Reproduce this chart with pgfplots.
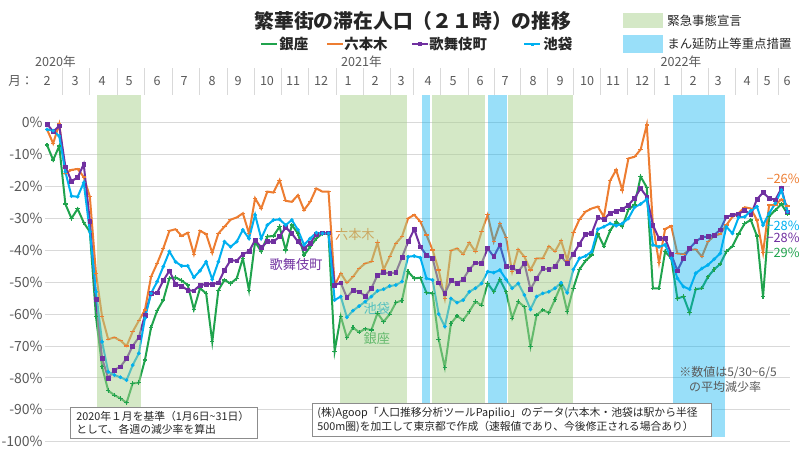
\documentclass[border=0pt]{standalone}
\usepackage{pgfplots}
\pgfplotsset{compat=1.18}
\usepackage{pgfplotstable}
\usepackage{fontspec}
\setmainfont{Noto Sans CJK JP}
\definecolor{cG}{RGB}{32,163,77}
\definecolor{cO}{RGB}{237,125,49}
\definecolor{cP}{RGB}{112,48,160}
\definecolor{cC}{RGB}{0,176,240}
\definecolor{bandG}{RGB}{169,209,142}
\definecolor{bandB}{RGB}{0,176,240}
\definecolor{txt}{RGB}{89,89,89}
\definecolor{dark}{RGB}{38,38,38}
\definecolor{gridc}{RGB}{217,217,217}

\pgfplotstableread{
w g o p c
0 -7.0 -2.1 -0.4 -2.1
1 -11.7 -6.5 -2.8 -2.5
2 -7.3 -0.4 -1.0 -4.2
3 -25.5 -15.9 -13.8 -15.4
4 -30.0 -14.8 -18.3 -23.0
5 -27.0 -14.5 -17.2 -23.2
6 -31.3 -17.0 -13.0 -18.8
7 -34.2 -23.2 -31.0 -34.2
8 -60.8 -47.2 -55.4 -53.0
9 -76.5 -60.8 -73.9 -68.7
10 -84.0 -67.9 -80.1 -78.1
11 -85.4 -67.3 -77.5 -79.1
12 -86.4 -68.3 -76.5 -79.8
13 -87.8 -70.0 -73.9 -80.7
14 -81.7 -65.5 -70.0 -76.0
15 -81.5 -62.1 -67.3 -72.3
16 -74.4 -58.7 -60.3 -61.3
17 -64.2 -48.3 -53.5 -53.5
18 -58.9 -44.1 -53.3 -49.8
19 -55.6 -39.4 -49.5 -45.1
20 -48.8 -33.9 -46.4 -40.4
21 -48.5 -33.4 -50.6 -43.6
22 -49.5 -35.5 -51.2 -44.9
23 -50.9 -34.5 -52.5 -44.9
24 -58.5 -41.2 -52.7 -48.5
25 -51.9 -33.9 -50.9 -46.4
26 -53.5 -34.9 -50.6 -43.6
27 -68.7 -40.8 -50.6 -49.1
28 -52.5 -34.7 -50.2 -43.6
29 -49.3 -32.6 -46.2 -37.3
30 -50.4 -30.4 -43.1 -38.9
31 -48.8 -29.7 -43.3 -37.3
32 -42.5 -28.4 -41.2 -33.6
33 -52.5 -34.7 -40.4 -36.3
34 -37.3 -23.7 -36.8 -28.9
35 -40.4 -26.9 -39.1 -36.3
36 -35.7 -21.6 -37.3 -32.1
37 -35.5 -21.9 -37.3 -30.5
38 -32.6 -18.0 -35.7 -30.3
39 -39.9 -24.5 -32.8 -32.1
40 -32.1 -24.8 -34.7 -30.5
41 -34.7 -22.7 -37.3 -33.6
42 -41.5 -27.4 -39.4 -38.3
43 -38.9 -24.8 -37.8 -36.3
44 -36.3 -20.6 -34.9 -34.5
45 -34.7 -21.6 -34.5 -34.7
46 -34.9 -21.6 -34.5 -34.7
47 -71.6 -50.9 -50.9 -55.6
48 -60.7 -47.2 -50.2 -54.5
49 -67.4 -50.2 -54.8 -61.0
50 -64.2 -48.3 -52.5 -58.9
51 -65.7 -45.7 -53.0 -57.5
52 -64.6 -44.1 -54.3 -56.1
53 -65.0 -43.6 -51.9 -54.5
54 -59.7 -37.6 -47.8 -52.7
55 -62.4 -46.0 -47.0 -52.2
56 -60.0 -42.0 -47.2 -51.2
57 -56.4 -37.8 -47.0 -50.9
58 -55.7 -35.7 -42.2 -49.8
59 -46.7 -30.0 -37.3 -42.0
60 -48.8 -28.9 -33.4 -41.8
61 -48.6 -31.0 -38.9 -42.3
62 -53.3 -35.2 -41.5 -48.8
63 -53.5 -39.9 -42.5 -49.3
64 -67.9 -46.2 -50.2 -60.0
65 -76.7 -55.1 -53.5 -63.9
66 -62.9 -40.1 -49.5 -55.1
67 -60.6 -39.4 -50.4 -56.4
68 -61.9 -41.2 -49.1 -55.6
69 -59.2 -37.6 -46.0 -53.0
70 -56.1 -40.4 -43.9 -51.9
71 -57.2 -34.2 -44.1 -50.4
72 -50.4 -28.9 -39.4 -46.7
73 -53.0 -37.3 -42.0 -47.0
74 -49.1 -31.6 -38.3 -46.2
75 -53.0 -35.9 -45.1 -49.1
76 -61.3 -46.7 -45.4 -51.9
77 -56.1 -39.7 -46.7 -50.4
78 -57.7 -42.0 -44.1 -54.0
79 -70.2 -46.2 -52.2 -58.5
80 -60.3 -42.5 -48.8 -54.5
81 -58.7 -42.5 -45.7 -53.5
82 -59.6 -38.7 -46.0 -53.0
83 -55.4 -40.4 -45.1 -51.9
84 -50.9 -37.0 -42.0 -50.2
85 -59.2 -43.1 -44.1 -53.3
86 -51.9 -34.5 -41.2 -46.0
87 -46.0 -30.3 -38.0 -42.5
88 -43.3 -27.9 -34.9 -41.8
89 -41.5 -26.9 -34.7 -40.4
90 -34.9 -26.3 -29.7 -33.4
91 -38.7 -29.5 -30.3 -32.6
92 -33.9 -18.2 -28.3 -31.6
93 -31.0 -14.8 -27.7 -32.3
94 -32.6 -21.1 -27.2 -31.6
95 -27.2 -11.2 -25.8 -30.0
96 -25.8 -10.7 -23.7 -26.5
97 -16.9 -8.4 -20.6 -25.5
98 -20.3 -0.7 -23.2 -24.0
99 -51.9 -32.0 -32.1 -38.3
100 -51.9 -43.9 -36.3 -38.9
101 -40.4 -33.3 -36.3 -38.3
102 -42.5 -32.4 -41.2 -42.5
103 -55.1 -41.0 -46.4 -48.8
104 -54.5 -41.2 -42.5 -51.4
105 -59.6 -39.9 -39.4 -52.2
106 -52.2 -39.7 -37.3 -47.2
107 -51.9 -42.0 -35.9 -45.7
108 -48.3 -37.3 -35.7 -44.6
109 -46.0 -35.5 -35.2 -42.8
110 -44.3 -34.9 -33.6 -41.0
111 -40.4 -32.1 -29.5 -32.6
112 -38.7 -29.5 -28.9 -34.7
113 -34.9 -28.4 -28.6 -29.7
114 -31.6 -26.5 -27.4 -29.5
115 -30.5 -26.9 -28.9 -27.6
116 -35.5 -30.5 -24.0 -26.3
117 -54.5 -40.8 -21.9 -32.1
118 -29.3 -25.8 -23.7 -28.4
119 -27.4 -25.8 -24.2 -25.3
120 -25.5 -24.0 -20.6 -21.1
121 -28.6 -26.1 -27.9 -27.9
}\data

\begin{document}
\begin{tikzpicture}
\path[use as bounding box] (0,0) rectangle (400pt,-225pt);
\begin{axis}[
  at={(22.5pt,-61.35pt)}, anchor=north west,
  x=3.06pt, y=1.595pt,
  xmin=-0.33, xmax=121.4, ymin=-100, ymax=0,
  enlargelimits=false, clip=false,
  axis line style={draw=none},
  xtick=\empty,
  ytick={-100,-90,...,0},
  yticklabels={-100\%,-90\%,-80\%,-70\%,-60\%,-50\%,-40\%,-30\%,-20\%,-10\%,0\%},
  major tick length=0pt,
  ymajorgrids, grid style={gridc, line width=0.5pt},
  yticklabel style={font=\fontsize{7}{8}\selectfont, text=txt, inner sep=0pt, xshift=-1pt},
  every axis plot/.append style={line width=1pt},
]
\addplot[cG, mark=+, mark size=1.1pt, mark options={line width=0.6pt}] table[x=w,y=g] {\data};
\addplot[cO, mark=-, mark size=1.1pt, mark options={line width=0.6pt}] table[x=w,y=o] {\data};
\addplot[cP, mark=square*, mark size=0.95pt, mark options={line width=0.3pt}] table[x=w,y=p] {\data};
\addplot[cC, mark=*, mark size=0.8pt, mark options={line width=0.3pt}] table[x=w,y=c] {\data};

\node[text=cO, font=\fontsize{6.6}{7}\selectfont] at (axis cs:50.3,-35.2) {六本木};
\node[text=cP, font=\fontsize{6.6}{7}\selectfont] at (axis cs:40.7,-44.6) {歌舞伎町};
\node[text=cC, font=\fontsize{6.6}{7}\selectfont] at (axis cs:53.9,-58.1) {池袋};
\node[text=cG, font=\fontsize{6.6}{7}\selectfont] at (axis cs:53.9,-67.8) {銀座};

\fill[bandG, fill opacity=0.5] (axis cs:8.17,8.7) rectangle (axis cs:15.36,-98.5);
\fill[bandG, fill opacity=0.5] (axis cs:47.9,8.7) rectangle (axis cs:58.8,-98.5);
\fill[bandB, fill opacity=0.4] (axis cs:61.3,8.7) rectangle (axis cs:62.6,-98.5);
\fill[bandG, fill opacity=0.5] (axis cs:62.9,8.7) rectangle (axis cs:71.6,-98.5);
\fill[bandB, fill opacity=0.4] (axis cs:72.1,8.7) rectangle (axis cs:75.2,-98.5);
\fill[bandG, fill opacity=0.5] (axis cs:75.3,8.7) rectangle (axis cs:85.9,-98.5);
\fill[bandB, fill opacity=0.4] (axis cs:102.3,8.7) rectangle (axis cs:110.8,-98.5);
\end{axis}

\begin{scope}[x=0.5pt, y=-0.5pt]
% title
\node[font=\fontsize{9.9}{11}\selectfont\bfseries, text=dark] at (413,21) {繁華街の滞在人口（２１時）の推移};
% legend
\begin{scope}[line width=1pt]
\draw[cG] (261,44) -- (277,44); \fill[cG] (267.5,43) rectangle (270.5,45);
\draw[cO] (327,44) -- (343,44); \fill[cO] (333.5,43) rectangle (336.5,45);
\draw[cP] (412,44) -- (428,44); \fill[cP] (418,42) rectangle (422,46);
\draw[cC] (524,44) -- (540,44); \fill[cC] (530.5,42.5) rectangle (533.5,45.5);
\end{scope}
\tikzset{lg/.style={anchor=west, inner sep=0pt, text=dark, font=\fontsize{7.2}{8}\selectfont\bfseries}}
\node[lg] at (279,44) {銀座};
\node[lg] at (344,44) {六本木};
\node[lg] at (429,44) {歌舞伎町};
\node[lg] at (543,44) {池袋};
% band legend
\fill[bandG, fill opacity=0.5] (623,13) rectangle (663,28);
\fill[bandB, fill opacity=0.4] (623,35) rectangle (663,53);
\node[anchor=west, inner sep=0pt, text=dark, font=\fontsize{6.2}{7}\selectfont] at (667,20.5) {緊急事態宣言};
\node[anchor=west, inner sep=0pt, text=dark, font=\fontsize{6.2}{7}\selectfont] at (667,44) {まん延防止等重点措置};
% month header
\tikzset{hd/.style={text=txt, inner sep=0pt, font=\fontsize{6.3}{7}\selectfont}}
\node[hd] at (55.5,62) {2020年};
\node[hd] at (361.5,62) {2021年};
\node[hd] at (681,62) {2022年};
\node[hd] at (21,81) {月：};
\foreach \xx/\mm in {47/2,75/3,102/4,129/5,157/6,184/7,212/8,238/9,267/10,293/11,321/12,348/1,375/2,401/3,428/4,453/5,480/6,505/7,533/8,560/9,587/10,613/11,642/12,667/1,693/2,718/3,747/4,767/5,787/6}
  \node[hd] at (\xx,81) {\mm};
\foreach \xx in {62,89,117,144,172,199,227,254,281,308,336,363,390,413,440,468,494,520,547,573,600,627,654,681,708,735,757,778}
  \draw[gridc, line width=0.5pt] (\xx,68) -- (\xx,95);
% end labels
\tikzset{el/.style={anchor=east, inner sep=0pt, font=\fontsize{6.4}{7}\selectfont}}
\node[el, text=cO] at (800,179) {−26\%};
\node[el, text=cC] at (800,226) {−28\%};
\node[el, text=cP] at (800,237.5) {−28\%};
\node[el, text=cG] at (800,253) {−29\%};
% note
\node[text=txt, inner sep=0pt, font=\fontsize{6}{7}\selectfont] at (728,373) {※数値は5/30\textasciitilde 6/5};
\node[text=txt, inner sep=0pt, font=\fontsize{6}{7}\selectfont] at (725,387) {の平均減少率};
% boxes
\draw[fill=white, draw=gray!90, line width=0.5pt] (70,407) rectangle (257,438);
\node[anchor=west, text=dark, inner sep=0pt, font=\fontsize{5.4}{6}\selectfont] at (76,416.5) {2020年１月を基準（1月6日\textasciitilde 31日）};
\node[anchor=west, text=dark, inner sep=0pt, font=\fontsize{5.4}{6}\selectfont] at (76,429) {として、各週の減少率を算出};
\draw[fill=white, draw=gray!90, line width=0.5pt] (312,403) rectangle (711,436);
\node[anchor=west, text=dark, inner sep=0pt, font=\fontsize{5.4}{6}\selectfont] at (317,413) {(株)Agoop「人口推移分析ツールPapilio」のデータ(六本木・池袋は駅から半径};
\node[anchor=west, text=dark, inner sep=0pt, font=\fontsize{5.4}{6}\selectfont] at (317,427) {500m圏)を加工して東京都で作成（速報値であり、今後修正される場合あり）};
\end{scope}
\end{tikzpicture}
\end{document}
